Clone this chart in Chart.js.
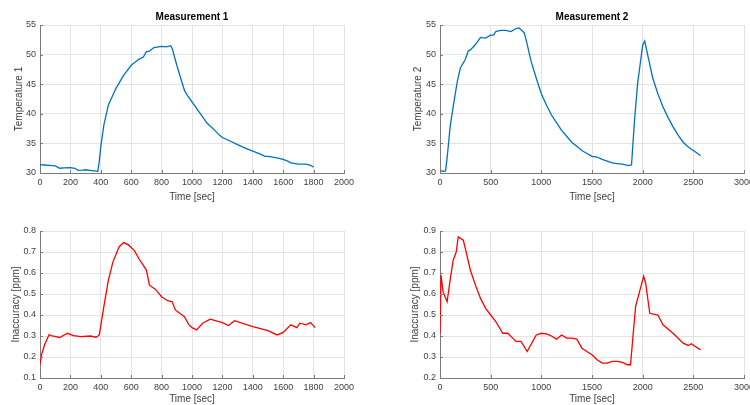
<!DOCTYPE html>
<html>
<head>
<meta charset="utf-8">
<script src="https://cdn.jsdelivr.net/npm/chart.js@4.4.1/dist/chart.umd.min.js"></script>
<style>
  html, body { margin: 0; padding: 0; background: #fff; width: 750px; height: 405px; overflow: hidden; }
  canvas { position: absolute; }
</style>
</head>
<body>
<canvas id="m1temp"  width="375" height="203" style="left:0;top:0"></canvas>
<canvas id="m2temp"  width="400" height="203" style="left:375px;top:0"></canvas>
<canvas id="m1inacc" width="375" height="199" style="left:0;top:206px"></canvas>
<canvas id="m2inacc" width="400" height="199" style="left:375px;top:206px"></canvas>
<script>
/* ======================================================
   Measurement 1 / 2 : temperature and inaccuracy vs time
====================================================== */

// --- data ---
const m1TempTime = [0, 30, 60, 100, 130, 160, 200, 230, 250, 280, 300, 340, 370, 380, 390, 400, 420, 450, 500, 550, 600, 650, 680, 700, 720, 750, 800, 830, 860, 870, 900, 950, 970, 1000, 1050, 1100, 1150, 1180, 1200, 1250, 1300, 1350, 1400, 1450, 1480, 1500, 1550, 1600, 1630, 1650, 1700, 1750, 1780, 1800];
const m1Temp     = [31.4, 31.35, 31.3, 31.2, 30.8, 30.85, 30.9, 30.8, 30.45, 30.5, 30.55, 30.4, 30.3, 30.25, 32.0, 34.4, 38.1, 41.5, 44.3, 46.5, 48.2, 49.2, 49.6, 50.5, 50.6, 51.2, 51.4, 51.3, 51.5, 51.0, 48.2, 44.0, 43.1, 42.0, 40.2, 38.4, 37.2, 36.4, 36.0, 35.4, 34.8, 34.2, 33.7, 33.2, 32.8, 32.8, 32.6, 32.3, 32.0, 31.7, 31.5, 31.5, 31.3, 31.0];

const m2TempTime = [0, 30, 55, 70, 100, 130, 170, 200, 250, 280, 300, 350, 400, 450, 500, 530, 550, 600, 650, 700, 750, 780, 800, 830, 850, 900, 950, 1000, 1050, 1100, 1150, 1200, 1250, 1300, 1350, 1400, 1450, 1500, 1550, 1600, 1650, 1700, 1750, 1800, 1850, 1880, 1890, 1920, 1950, 1980, 2000, 2020, 2050, 2100, 2150, 2200, 2250, 2300, 2350, 2400, 2450, 2500, 2550, 2570];
const m2Temp     = [30.4, 30.3, 30.35, 32.5, 37.8, 41.2, 45.4, 47.7, 49.2, 50.6, 50.8, 51.7, 52.9, 52.8, 53.3, 53.3, 53.9, 54.1, 54.1, 53.9, 54.4, 54.5, 54.2, 53.7, 52.5, 48.8, 46.0, 43.4, 41.5, 39.8, 38.5, 37.2, 36.2, 35.2, 34.5, 33.8, 33.3, 32.8, 32.7, 32.3, 32.0, 31.7, 31.6, 31.5, 31.3, 31.3, 31.4, 39.0, 45.1, 49.0, 51.6, 52.3, 49.9, 46.0, 43.4, 41.2, 39.4, 37.8, 36.4, 35.2, 34.4, 33.8, 33.2, 32.9];

const m1InaccTime = [0, 10, 30, 50, 60, 80, 130, 180, 220, 270, 330, 370, 390, 420, 450, 480, 520, 550, 580, 620, 650, 700, 720, 760, 800, 840, 870, 890, 950, 980, 1000, 1030, 1070, 1120, 1200, 1240, 1280, 1400, 1500, 1560, 1600, 1650, 1690, 1710, 1750, 1780, 1810];
const m1Inacc     = [0.163, 0.21, 0.258, 0.29, 0.307, 0.30, 0.293, 0.313, 0.302, 0.297, 0.30, 0.294, 0.305, 0.44, 0.566, 0.653, 0.724, 0.745, 0.735, 0.708, 0.669, 0.614, 0.542, 0.522, 0.487, 0.468, 0.463, 0.424, 0.392, 0.353, 0.34, 0.329, 0.361, 0.38, 0.364, 0.35, 0.373, 0.345, 0.326, 0.305, 0.317, 0.353, 0.34, 0.361, 0.353, 0.364, 0.34];

const m2InaccTime = [0, 10, 30, 70, 100, 130, 160, 180, 230, 250, 300, 350, 400, 450, 500, 550, 620, 670, 700, 750, 800, 860, 950, 1000, 1050, 1100, 1150, 1200, 1250, 1300, 1350, 1400, 1450, 1500, 1550, 1600, 1650, 1700, 1750, 1800, 1850, 1880, 1930, 1960, 2010, 2030, 2070, 2150, 2200, 2300, 2400, 2450, 2480, 2570];
const m2Inacc     = [0.413, 0.69, 0.611, 0.563, 0.666, 0.761, 0.80, 0.872, 0.856, 0.816, 0.713, 0.642, 0.579, 0.532, 0.50, 0.469, 0.413, 0.413, 0.398, 0.374, 0.374, 0.326, 0.405, 0.413, 0.41, 0.40, 0.385, 0.405, 0.39, 0.39, 0.385, 0.342, 0.326, 0.311, 0.287, 0.271, 0.271, 0.279, 0.279, 0.274, 0.263, 0.263, 0.54, 0.595, 0.685, 0.65, 0.508, 0.50, 0.453, 0.413, 0.366, 0.355, 0.363, 0.334];

// axis limits [min, max, step]
const timeAxis1  = [0, 2000, 200];
const timeAxis2  = [0, 3000, 500];
const tempAxis   = [30, 55, 5];
const inaccAxis1 = [0.1, 0.8, 0.1];
const inaccAxis2 = [0.2, 0.9, 0.1];

const BLUE = '#0072BD';
const RED  = '#FF0000';
const FONT = 'Liberation Sans, Arial, Helvetica, sans-serif';
const AXIS_COLOR = '#7a7a7a';
const GRID_COLOR = '#e3e3e3';
const TEXT_COLOR = '#404040';

// title above the axes and small inward tick marks, matlab style
const matlabAxes = {
  id: 'matlabAxes',
  afterDraw(chart, args, opts) {
    const { ctx, chartArea: a, scales: { x, y } } = chart;
    ctx.save();
    ctx.strokeStyle = AXIS_COLOR;
    ctx.lineWidth = 1;
    ctx.beginPath();
    x.ticks.forEach(t => {
      const px = Math.round(x.getPixelForValue(t.value)) + 0.5;
      ctx.moveTo(px, a.bottom);
      ctx.lineTo(px, a.bottom - 3);
    });
    y.ticks.forEach(t => {
      const py = Math.round(y.getPixelForValue(t.value)) + 0.5;
      ctx.moveTo(a.left, py);
      ctx.lineTo(a.left + 3, py);
    });
    ctx.stroke();
    if (opts.title) {
      ctx.fillStyle = '#000';
      ctx.font = 'bold 10px ' + FONT;
      ctx.textAlign = 'center';
      ctx.textBaseline = 'middle';
      ctx.fillText(opts.title, (a.left + a.right) / 2, 17);
    }
    ctx.restore();
  }
};

function points(xs, ys) {
  return xs.map((t, i) => ({ x: t, y: ys[i] }));
}

function renderPanel(id, p) {
  return new Chart(document.getElementById(id), {
    type: 'line',
    data: {
      datasets: [{
        data: points(p.xs, p.ys),
        borderColor: p.color,
        borderWidth: 1.3,
        pointRadius: 0,
        tension: 0,
        fill: false
      }]
    },
    options: {
      responsive: false,
      animation: false,
      layout: { padding: { left: p.padLeft, top: 25, right: 31, bottom: 0 } },
      plugins: {
        legend: { display: false },
        tooltip: { enabled: false },
        matlabAxes: { title: p.title }
      },
      scales: {
        x: {
          type: 'linear',
          min: p.xAxis[0], max: p.xAxis[1],
          afterFit: s => { s.height = p.xHeight; },
          grid: { color: GRID_COLOR, drawTicks: false },
          border: { display: true, color: AXIS_COLOR },
          ticks: {
            stepSize: p.xAxis[2], autoSkip: false, maxRotation: 0,
            padding: 4, color: TEXT_COLOR, font: { family: FONT, size: 9 },
            callback: v => String(v)
          },
          title: {
            display: true, text: 'Time [sec]', color: TEXT_COLOR,
            padding: { top: 0, bottom: 0 }, font: { family: FONT, size: 10 }
          }
        },
        y: {
          min: p.yAxis[0], max: p.yAxis[1],
          afterFit: s => { s.width = 40; },
          grid: { color: GRID_COLOR, drawTicks: false },
          border: { display: true, color: AXIS_COLOR },
          ticks: {
            stepSize: p.yAxis[2], padding: 4, color: TEXT_COLOR,
            font: { family: FONT, size: 9 }
          },
          title: {
            display: true, text: p.yTitle, color: TEXT_COLOR,
            padding: { top: p.yTitlePad, bottom: 0 }, font: { family: FONT, size: 10 }
          }
        }
      }
    },
    plugins: [matlabAxes]
  });
}

renderPanel('m1temp', {
  xs: m1TempTime, ys: m1Temp, color: BLUE, title: 'Measurement 1', xHeight: 30,
  xAxis: timeAxis1, yAxis: tempAxis, yTitle: 'Temperature 1', padLeft: 0, yTitlePad: 13
});
renderPanel('m2temp', {
  xs: m2TempTime, ys: m2Temp, color: BLUE, title: 'Measurement 2', xHeight: 30,
  xAxis: timeAxis2, yAxis: tempAxis, yTitle: 'Temperature 2', padLeft: 25, yTitlePad: 12
});
renderPanel('m1inacc', {
  xs: m1InaccTime, ys: m1Inacc, color: RED, title: '', xHeight: 27,
  xAxis: timeAxis1, yAxis: inaccAxis1, yTitle: 'Inaccuracy [ppm]', padLeft: 0, yTitlePad: 10
});
renderPanel('m2inacc', {
  xs: m2InaccTime, ys: m2Inacc, color: RED, title: '', xHeight: 27,
  xAxis: timeAxis2, yAxis: inaccAxis2, yTitle: 'Inaccuracy [ppm]', padLeft: 25, yTitlePad: 9
});
</script>
</body>
</html>
